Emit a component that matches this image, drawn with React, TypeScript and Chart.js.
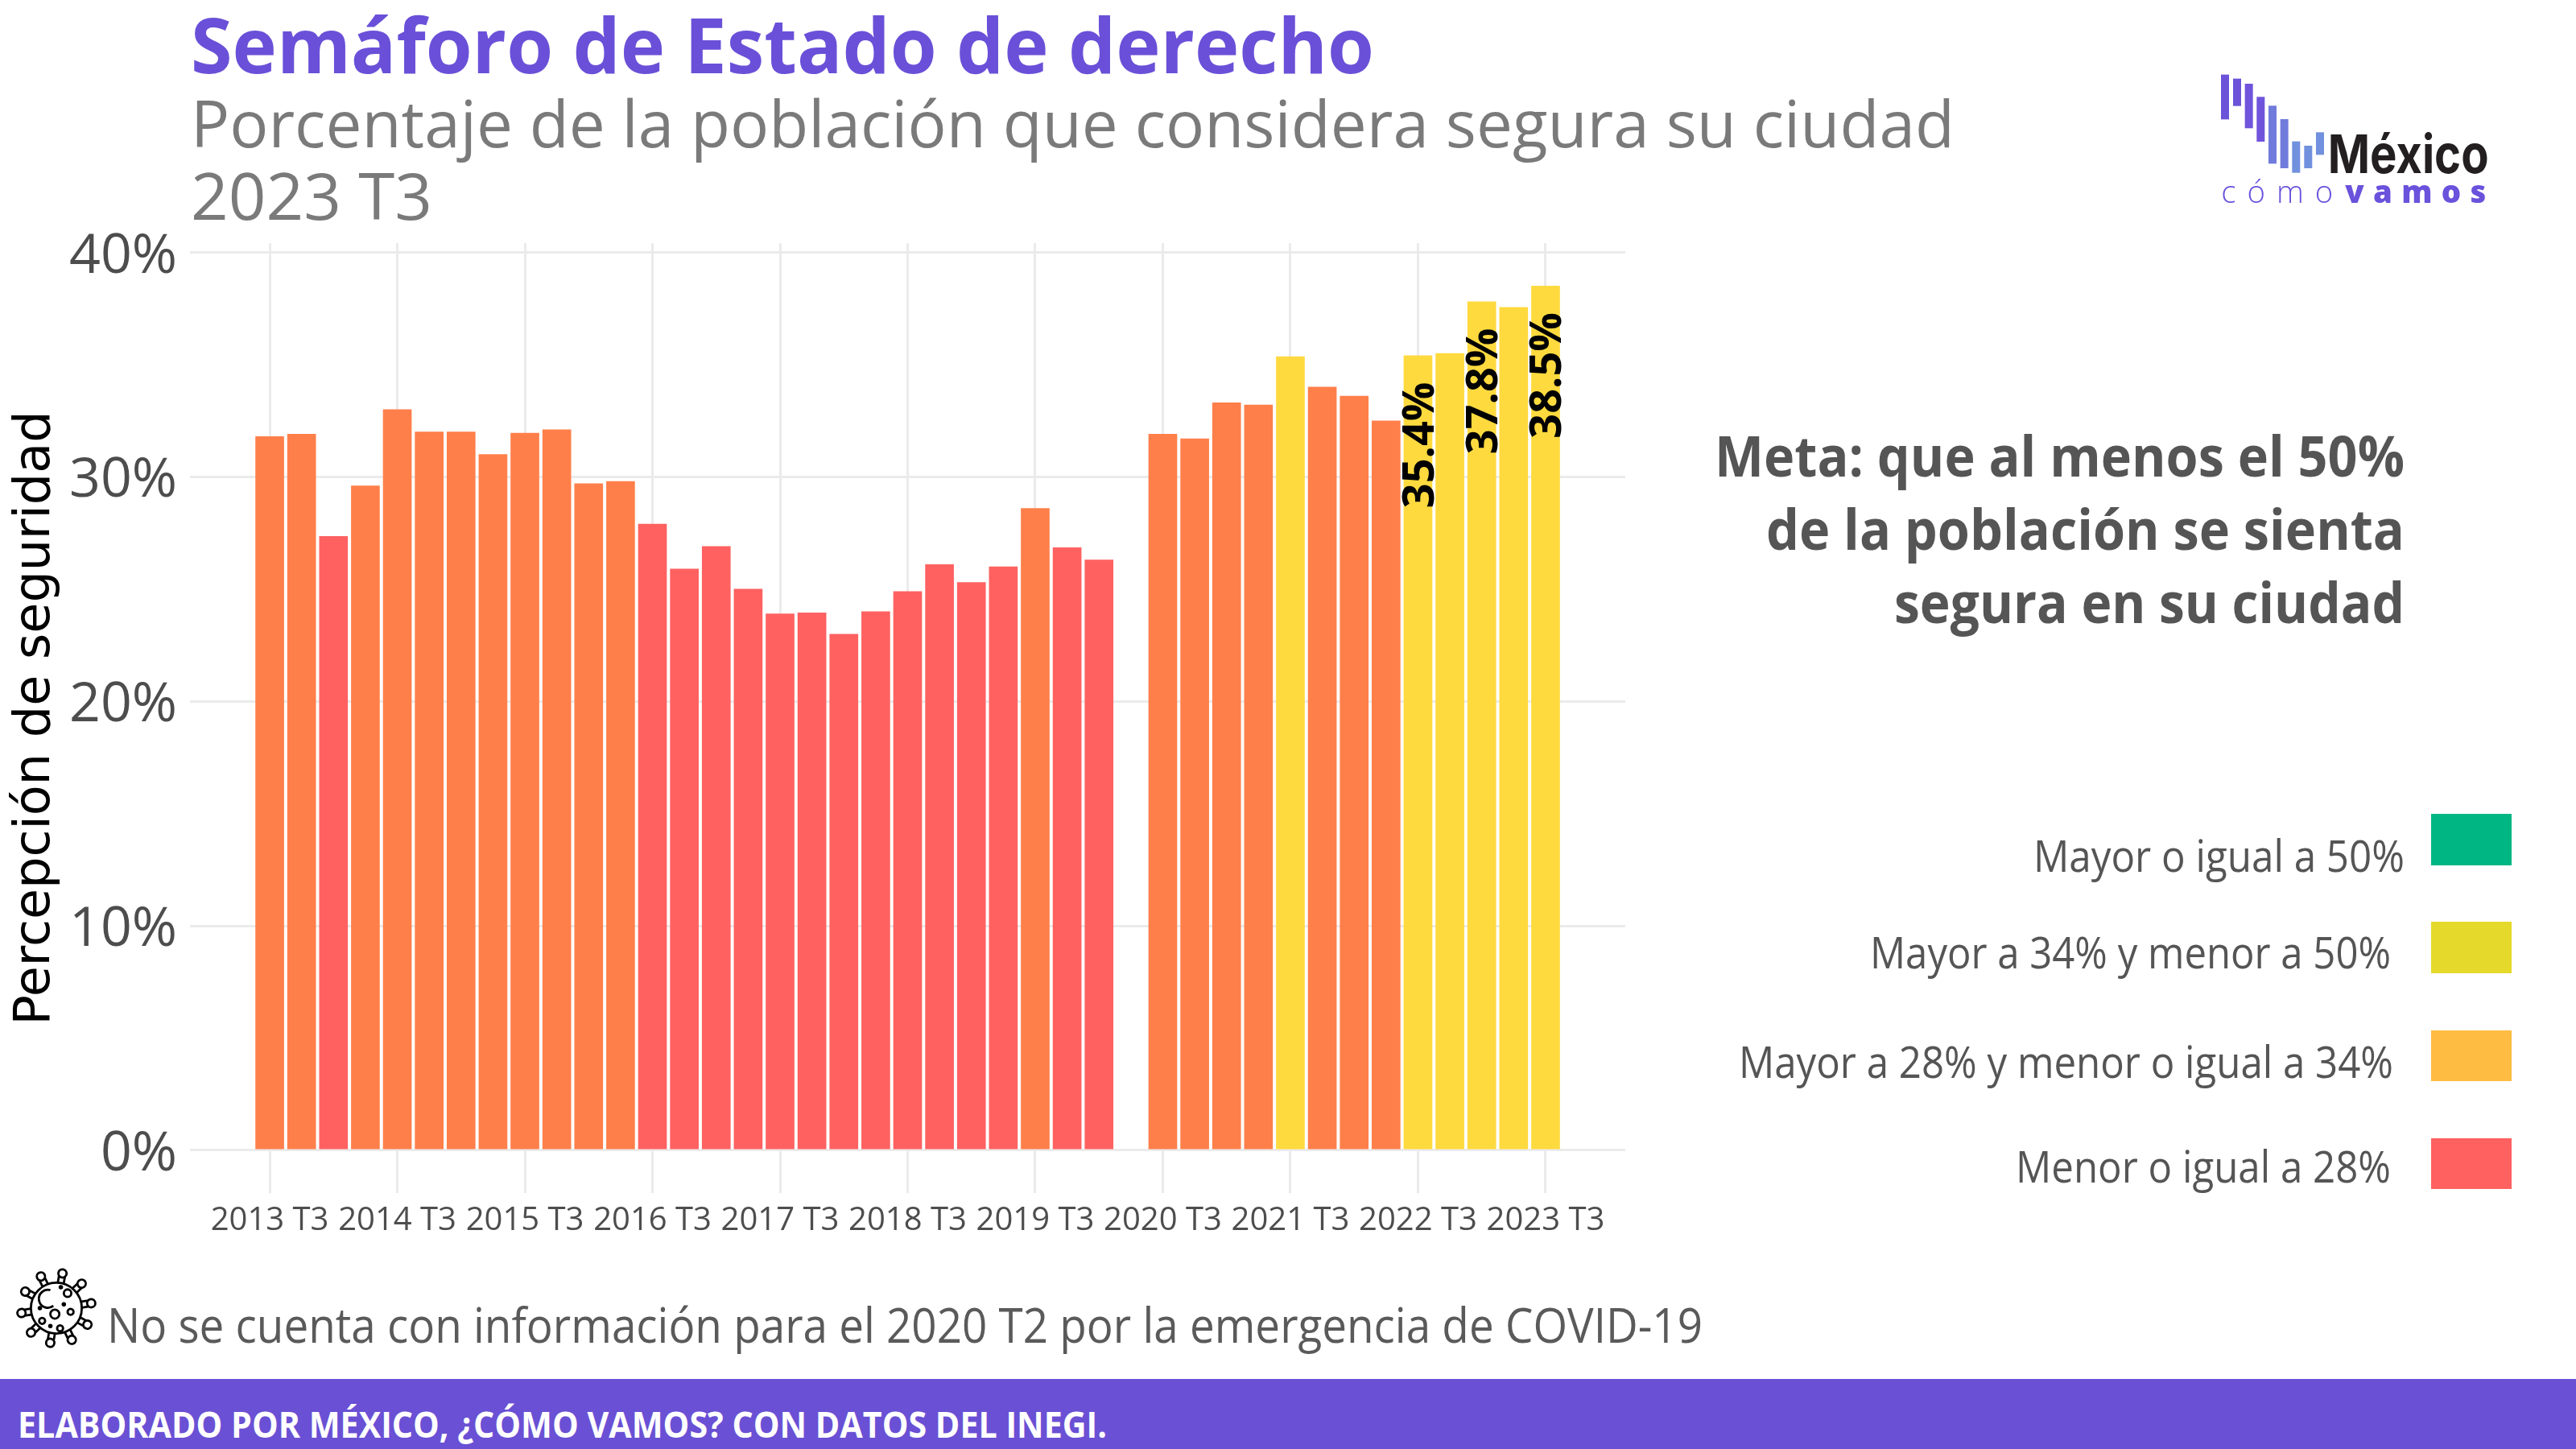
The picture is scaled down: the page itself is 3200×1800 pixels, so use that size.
import React, { useEffect, useRef } from "react";
import { Chart, registerables } from "chart.js";

Chart.register(...registerables);

const periods = [
  "2013 T3","2013 T4","2014 T1","2014 T2","2014 T3","2014 T4","2015 T1","2015 T2","2015 T3","2015 T4","2016 T1","2016 T2",
  "2016 T3","2016 T4","2017 T1","2017 T2","2017 T3","2017 T4","2018 T1","2018 T2","2018 T3","2018 T4","2019 T1","2019 T2",
  "2019 T3","2019 T4","2020 T1","2020 T2","2020 T3","2020 T4","2021 T1","2021 T2","2021 T3","2021 T4","2022 T1","2022 T2",
  "2022 T3","2022 T4","2023 T1","2023 T2","2023 T3",
];
const values: (number | null)[] = [
  31.8,31.9,27.35,29.6,33.0,32.0,32.0,31.0,31.95,32.1,29.7,29.8,
  27.9,25.9,26.9,25.0,23.9,23.95,23.0,24.0,24.9,26.1,25.3,26.0,
  28.6,26.85,26.3,null,31.9,31.7,33.3,33.2,35.35,34.0,33.6,32.5,
  35.4,35.5,37.8,37.55,38.5,
];
const labelledPeriods = ["2022 T3", "2023 T1", "2023 T3"];
const yTicks = [0, 10, 20, 30, 40];

const RED = "#FF6161";
const ORANGE = "#FF7F4A";
const YELLOW = "#FFDA3F";
const barColor = (v: number | null) => (v === null ? RED : v > 34 ? YELLOW : v > 28 ? ORANGE : RED);

const legendItems = [
  { label: "Mayor o igual a 50%", color: "#00B783", x1: 2526, x2: 2987, base: 1083, top: 1011, h: 64 },
  { label: "Mayor a 34% y menor a 50%", color: "#E5D92B", x1: 2323, x2: 2970, base: 1203, top: 1145, h: 64 },
  { label: "Mayor a 28% y menor o igual a 34%", color: "#FFBC42", x1: 2160, x2: 2973, base: 1339, top: 1280, h: 63 },
  { label: "Menor o igual a 28%", color: "#FF6060", x1: 2504, x2: 2970, base: 1469, top: 1414, h: 63 },
];
const metaLines = [
  { text: "Meta: que al menos el 50%", x1: 2130, base: 592 },
  { text: "de la población se sienta", x1: 2194, base: 683 },
  { text: "segura en su ciudad", x1: 2353, base: 774 },
];
const logoBars = [
  [327, 128, 295, "#6B52D9"], [372, 143, 245, "#6B52D9"], [416, 162, 328, "#7054DB"], [460, 211, 378, "#7054DB"],
  [504, 244, 460, "#717BDC"], [548, 294, 477, "#717BDC"], [592, 377, 494, "#7190DE"], [637, 393, 477, "#7190DE"], [681, 343, 427, "#7190DE"],
] as [number, number, number, string][];
const virusAngles = [0, 36, 72, 108, 144, 180, 216, 252, 288, 324];
const virusDots = [[85, 1605, 5], [68, 1633, 6], [89, 1630, 4], [51, 1642, 4], [75, 1652, 4], [76, 1597, 1.5], [80, 1620, 1.5], [48, 1625, 1.5], [62, 1649, 1.5]];

const FONT = '"Open Sans", sans-serif';

const barLabels = {
  id: "barLabels",
  afterDatasetsDraw(chart: any) {
    const { ctx, scales } = chart;
    ctx.save();
    ctx.fillStyle = "#000";
    ctx.font = `700 54px ${FONT}`;
    ctx.textAlign = "right";
    ctx.textBaseline = "middle";
    labelledPeriods.forEach((p) => {
      const i = periods.indexOf(p);
      const v = values[i] as number;
      ctx.save();
      ctx.translate(scales.x.getPixelForValue(i), scales.y.getPixelForValue(v) + 33);
      ctx.rotate(-Math.PI / 2);
      ctx.fillText(`${v.toFixed(1)}%`, 0, 4);
      ctx.restore();
    });
    ctx.restore();
  },
};

function App() {
  const ref = useRef<HTMLCanvasElement>(null);
  useEffect(() => {
    const chart = new Chart(ref.current as HTMLCanvasElement, {
      type: "bar",
      data: {
        datasets: [
          {
            data: values.map((y, x) => ({ x, y })),
            backgroundColor: values.map(barColor),
            barPercentage: 0.9,
            categoryPercentage: 1,
          } as any,
        ],
      },
      options: {
        animation: false,
        responsive: false,
        layout: { padding: { left: 0, top: 302, right: 1181, bottom: 0 } },
        plugins: { legend: { display: false }, tooltip: { enabled: false } },
        scales: {
          x: {
            type: "linear",
            offset: false,
            min: -2.5,
            max: 42.5,
            afterFit: (s: any) => { s.height = 318; },
            afterBuildTicks: (s: any) => {
              s.ticks = periods.map((p, i) => ({ p, i })).filter((o) => o.p.endsWith("T3")).map((o) => ({ value: o.i }));
            },
            grid: { color: "#EBEBEB", lineWidth: 3, drawTicks: false, offset: false },
            border: { display: false },
            ticks: {
              autoSkip: false,
              maxRotation: 0,
              minRotation: 0,
              padding: 11,
              color: "#4D4D4D",
              font: { family: FONT, size: 40, weight: "400" },
              callback: (v: any) => periods[v as number],
            },
          },
          y: {
            min: -1.9,
            max: 40.4,
            afterFit: (s: any) => { s.width = 236; },
            afterBuildTicks: (s: any) => { s.ticks = yTicks.map((value) => ({ value })); },
            grid: { color: "#EBEBEB", lineWidth: 3, drawTicks: false },
            border: { display: false },
            title: {
              display: true,
              text: "Percepción de seguridad",
              color: "#000",
              font: { family: '"DejaVu Sans", sans-serif', size: 62, weight: "400" },
              padding: { top: 8, bottom: 0 },
            },
            ticks: {
              padding: 16,
              labelOffset: 6,
              color: "#4D4D4D",
              font: { family: FONT, size: 68, weight: "400" },
              callback: (v: any) => `${v}%`,
            },
          },
        },
      } as any,
      plugins: [barLabels],
    });
    return () => chart.destroy();
  }, []);

  return (
    <div style={{ position: "absolute", left: 0, top: 0, width: 3200, height: 1800, overflow: "hidden", background: "#fff" }}>
      <canvas ref={ref} width={3200} height={1800} style={{ position: "absolute", left: 0, top: 0, width: 3200, height: 1800 }} />
      <svg width={3200} height={1800} viewBox="0 0 3200 1800" style={{ position: "absolute", left: 0, top: 0 }} fontFamily={FONT}>
        <text x={237} y={91} fontSize={95} fontWeight={700} fill="#6A50D8" textLength={1470} lengthAdjust="spacingAndGlyphs">Semáforo de Estado de derecho</text>
        <text x={237} y={183} fontSize={80} fontWeight={400} fill="#7A7A7A" textLength={2191} lengthAdjust="spacingAndGlyphs">Porcentaje de la población que considera segura su ciudad</text>
        <text x={237} y={273} fontSize={80} fontWeight={400} fill="#7A7A7A" textLength={300} lengthAdjust="spacingAndGlyphs">2023 T3</text>

        {metaLines.map((m) => (
          <text key={m.text} x={m.x1} y={m.base} fontSize={70} fontWeight={700} fill="#555" textLength={2987 - m.x1} lengthAdjust="spacingAndGlyphs">{m.text}</text>
        ))}

        {legendItems.map((l) => (
          <g key={l.label}>
            <rect x={3020} y={l.top} width={100} height={l.h} fill={l.color} />
            <text x={l.x1} y={l.base} fontSize={54} fontWeight={400} fill="#555" textLength={l.x2 - l.x1} lengthAdjust="spacingAndGlyphs">{l.label}</text>
          </g>
        ))}

        <text x={133} y={1668} fontSize={60} fontWeight={400} fill="#5A5A5A" textLength={1982} lengthAdjust="spacingAndGlyphs">No se cuenta con información para el 2020 T2 por la emergencia de COVID-19</text>

        <g fill="none" stroke="#000" strokeWidth={3} transform="translate(70 1625) scale(0.93) translate(-70 -1625)">
          <circle cx={70} cy={1625} r={34} />
          <path d="M62 1601 A12 12 0 1 0 66 1622" />
          {virusAngles.map((a) => (
            <g key={a} transform={`rotate(${a + 10} 70 1625)`}>
              <path d="M66 1591 V1581 M74 1591 V1581" />
              <circle cx={70} cy={1578} r={5.5} />
            </g>
          ))}
          {virusDots.map(([x, y, r]) => <circle key={`${x}-${y}`} cx={x} cy={y} r={r} />)}
        </g>

        <rect x={0} y={1713} width={3200} height={87} fill="#6A50D4" />
        <text x={22} y={1786} fontSize={45} fontWeight={700} fill="#fff" textLength={1353} lengthAdjust="spacingAndGlyphs">ELABORADO POR MÉXICO, ¿CÓMO VAMOS? CON DATOS DEL INEGI.</text>

        <g transform="translate(2650 50) scale(0.3333)">
          {logoBars.map(([x, t, b, c]) => <rect key={x} x={x} y={t} width={30} height={b - t} fill={c} />)}
          <text x={725} y={495} fontSize={200} fontWeight={700} fontFamily="Inter, sans-serif" fill="#231F20" textLength={600} lengthAdjust="spacingAndGlyphs">México</text>
          <text x={328} y={607} fontSize={115} fontWeight={300} fill="#6A52DC" textLength={417}>cómo</text>
          <text x={790} y={607} fontSize={115} fontWeight={800} fill="#6A52DC" textLength={525}>vamos</text>
        </g>
      </svg>
    </div>
  );
}

export default App;
